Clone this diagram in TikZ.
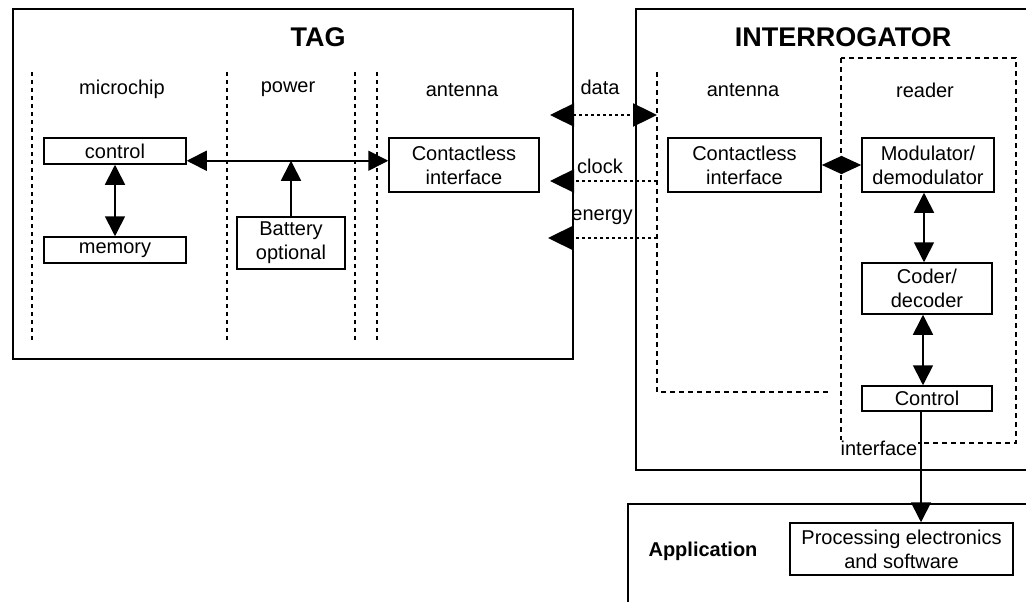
\documentclass[tikz,border=0pt]{standalone}
\usepackage{fontspec}
\setmainfont{Liberation Sans}
\usetikzlibrary{arrows.meta,calc}
\tikzset{
  Tri/.tip={Triangle[length=20pt,width=20pt]},
  DTri/.tip={Triangle[length=24pt,width=23pt]},
  STri/.tip={Triangle[length=20pt,width=18pt]},
}
\begin{document}
\begin{tikzpicture}[x=1pt,y=-1pt,
  txt/.style={font=\fontsize{20}{24}\selectfont},
  ttl/.style={font=\fontsize{27}{30}\selectfont\bfseries},
  box/.style={draw, line width=1.5pt, txt, align=center, inner sep=0pt},
  frame/.style={draw, line width=1.8pt, anchor=north west, inner sep=0pt},
  sep/.style={line width=1.6pt, dash pattern=on 4pt off 4pt},
  region/.style={line width=1.4pt, dash pattern=on 5pt off 4pt},
  both/.style={line width=1.7pt, Tri-Tri},
  single/.style={line width=1.7pt, -Tri},
  wave/.style={line width=2.4pt, dash pattern=on 3pt off 3pt},
]
\fill[white] (0,0) rectangle (1026,602);
\useasboundingbox (0,0) rectangle (1026,602);
\clip (0,0) rectangle (1026,602);

% frames
\node[frame, minimum width=560pt, minimum height=350pt] (tag) at (12,8) {};
\node[frame, minimum width=420pt, minimum height=461pt] (interr) at (635,8) {};
\node[frame, minimum width=420pt, minimum height=130pt] (app) at (627,503) {};

% titles
\node[ttl] (tagt) at (318,37) {TAG};
\node[ttl] (intt) at (843,37) {INTERROGATOR};

% TAG separators
\draw[sep] (32,72) -- (32,340);
\draw[sep] (227,72) -- (227,340);
\draw[sep] (355,72) -- (355,340);
\draw[sep] (377,72) -- (377,340);

% interrogator regions
\draw[region] (657,72) -- (657,392) -- (828,392);
\draw[region] (841,58) rectangle (1016,443);
\node[txt, fill=white, inner sep=1pt] (iface) at (879,448) {interface};

% labels
\node[txt] (lmicro) at (122,89) {microchip};
\node[txt] (lpower) at (288,89) {power};
\node[txt] (lant1) at (462,90) {antenna};
\node[txt] (lant2) at (743,90) {antenna};
\node[txt] (lreader) at (925,90) {reader};
\node[txt] (ldata) at (600,87) {data};
\node[txt] (lclock) at (600,166) {clock};
\node[txt] (lenergy) at (602,217) {energy};
\node[font=\fontsize{20}{24}\selectfont\bfseries] (lapp) at (703,551) {Application};

% boxes
\node[box, minimum width=142pt, minimum height=26pt] (control) at (115,151) {control};
\node[box, minimum width=142pt, minimum height=26pt] (memory) at (115,250) {memory};
\node[box, minimum width=108pt, minimum height=52pt] (battery) at (291,243) {Battery\\optional};
\node[box, minimum width=150pt, minimum height=54pt] (tagci) at (464,165) {Contactless\\interface};
\node[box, minimum width=153pt, minimum height=54pt] (intci) at (744.5,165) {Contactless\\interface};
\node[box, minimum width=132pt, minimum height=54pt] (mod) at (928,165) {Modulator/\\demodulator};
\node[box, minimum width=130pt, minimum height=51pt] (coder) at (927,288.5) {Coder/\\decoder};
\node[box, minimum width=130pt, minimum height=25pt] (rctl) at (927,398.5) {Control};
\node[box, minimum width=223pt, minimum height=52pt] (proc) at (901.5,549) {Processing electronics\\and software};

% TAG connectors
\draw[both] (control) -- (memory);
\coordinate (cline) at ([yshift=4pt]control.south east);
\draw[both] (cline) -- (cline -| tagci.west);
\draw[single] (battery.north) -- (battery.north |- cline);

% air interface
\coordinate (dataL) at (550,115);
\coordinate (dataR) at (657,115);
\coordinate (clkL) at (550,181);
\coordinate (clkR) at (657,181);
\coordinate (enL) at (548,238);
\coordinate (enR) at (657,238);
\draw[wave, DTri-DTri] (dataL) -- (dataR);
\draw[wave, -DTri] (clkR) -- (clkL);
\draw[wave, -DTri] (enR) -- (enL);

% interrogator connectors
\draw[line width=1.7pt, STri-STri] (intci) -- (mod);
\coordinate (mc) at ([xshift=-4pt]mod.south);
\draw[both] (mc) -- (mc |- coder.north);
\coordinate (cc) at ([xshift=-4pt]coder.south);
\draw[both] (cc) -- (cc |- rctl.north);
\coordinate (ifs) at ([xshift=-6pt]rctl.south);
\draw[single] (ifs) -- (ifs |- proc.north);
\end{tikzpicture}
\end{document}
